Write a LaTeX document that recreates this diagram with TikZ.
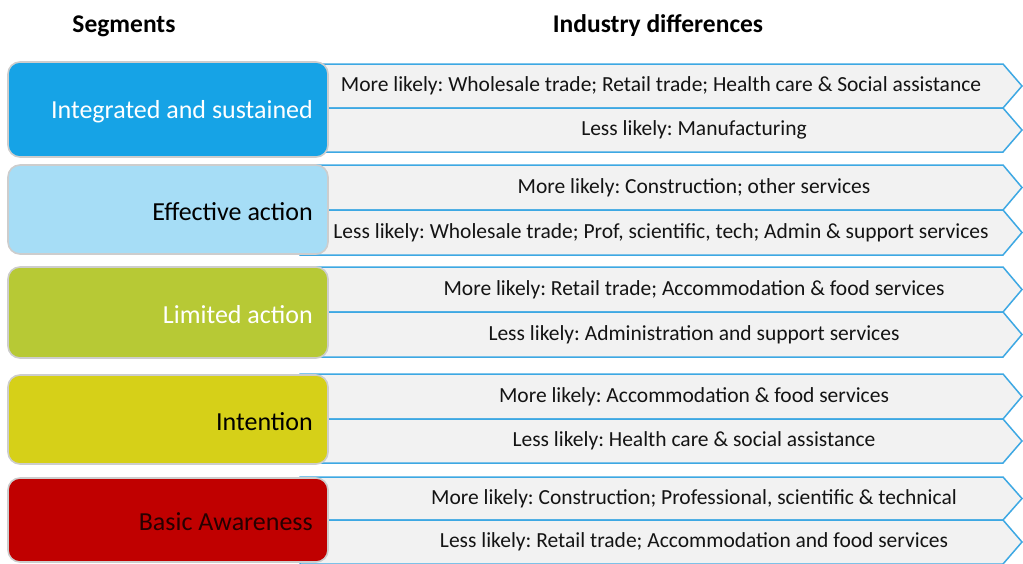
\documentclass[tikz,border=0pt]{standalone}
\usepackage{fontspec}
\setmainfont{Carlito}
\frenchspacing
\definecolor{cIS}{RGB}{22,163,230}
\definecolor{cEA}{RGB}{166,221,246}
\definecolor{cLA}{RGB}{183,201,53}
\definecolor{cIN}{RGB}{214,208,24}
\definecolor{cBA}{RGB}{192,0,0}
\definecolor{chevline}{RGB}{61,168,227}
\definecolor{chevfill}{RGB}{242,242,242}
\definecolor{boxline}{RGB}{205,205,205}
\tikzset{
  chevron/.style={draw=chevline, fill=chevfill, line width=1.5pt, line join=miter},
  chevtext/.style={inner sep=0pt, font=\fontsize{21.5}{24}\selectfont, text=black!92},
  segbox/.style={draw=boxline, line width=1.6pt, rounded corners=12pt},
  segtext/.style={inner sep=0pt, anchor=east, font=\fontsize{26}{30}\selectfont},
  header/.style={inner sep=0pt, font=\bfseries\fontsize{25.5}{30}\selectfont}
}
\newcommand\chevrow[5][694]{%
  \draw[chevron] (300,#2) -- (1003,#2) -- (1022,{(#2+#3)/2}) -- (1003,#3) -- (300,#3) -- cycle;
  \node[chevtext] (#4) at (#1,{(#2+#3)/2}) {#5};}
\newcommand\segment[6]{% top bottom fill textcolor name text
  \draw[segbox, fill=#3] (8,#1) rectangle (328,#2);
  \node[segtext, text=#4] (#5) at (313,{(#1+#2)/2+2}) {#6};}
\begin{document}
\begin{tikzpicture}[x=1pt,y=-1pt]
\useasboundingbox[fill=white] (0,0) rectangle (1023,563);
\node[header] (hseg) at (124,26) {Segments};
\node[header] (hind) at (658,26) {Industry differences};
% segment 1
\chevrow[661]{64}{108}{m1}{More likely: Wholesale trade; Retail trade; Health care \& Social assistance}
\chevrow{108}{152}{l1}{Less likely: Manufacturing}
\segment{62}{157}{cIS}{white}{s1}{Integrated and sustained}
% segment 2
\chevrow{165}{210}{m2}{More likely: Construction; other services}
\chevrow[661]{210}{255}{l2}{Less likely: Wholesale trade; Prof, scientific, tech; Admin \& support services}
\segment{165}{254}{cEA}{black}{s2}{Effective action}
% segment 3
\chevrow{267}{312}{m3}{More likely: Retail trade; Accommodation \& food services}
\chevrow{312}{357}{l3}{Less likely: Administration and support services}
\segment{267}{358}{cLA}{white}{s3}{Limited action}
% segment 4
\chevrow{374}{419}{m4}{More likely: Accommodation \& food services}
\chevrow{419}{463}{l4}{Less likely: Health care \& social assistance}
\segment{375}{464}{cIN}{black}{s4}{Intention}
% segment 5
\chevrow{477}{520}{m5}{More likely: Construction; Professional, scientific \& technical}
\chevrow{520}{564}{l5}{Less likely: Retail trade; Accommodation and food services}
\segment{478}{562}{cBA}{black!85!red}{s5}{Basic Awareness}
\end{tikzpicture}
\end{document}
